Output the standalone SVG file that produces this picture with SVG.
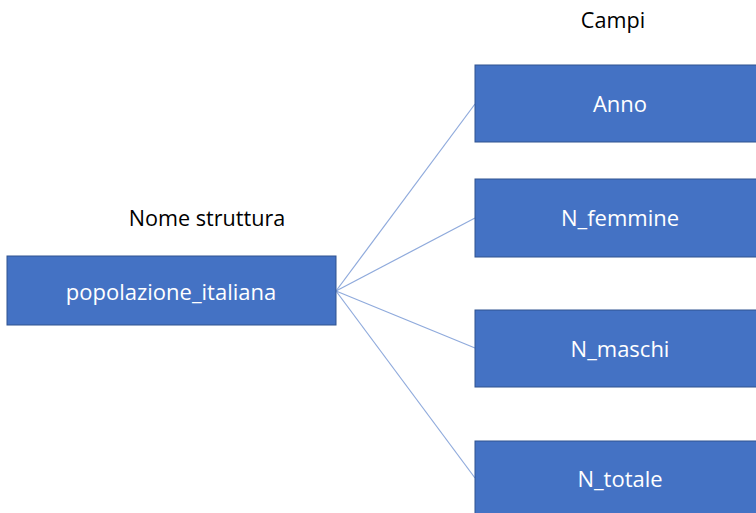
<svg xmlns="http://www.w3.org/2000/svg" width="756" height="513" viewBox="0 0 756 513">
<style>
.box{fill:#4472C4;stroke:#2F528F;stroke-width:1}
.bt{fill:#ffffff;font-family:"Open Sans","Liberation Sans",sans-serif;font-size:22px;text-anchor:middle}
.lbl{fill:#000000;font-family:"Open Sans","Liberation Sans",sans-serif;font-size:21.6px;text-anchor:middle}
.con{stroke:#8FAADC;stroke-width:1.2;fill:none}
</style>
<rect width="756" height="513" fill="#ffffff"/>
<g id="connectors">
<line class="con" x1="336" y1="291" x2="475" y2="104"/>
<line class="con" x1="336" y1="291" x2="475" y2="218"/>
<line class="con" x1="336" y1="291" x2="475" y2="348"/>
<line class="con" x1="336" y1="291" x2="475" y2="478"/>
</g>
<g id="label-campi"><text class="lbl" x="613" y="28">Campi</text></g>
<g id="label-nome"><text class="lbl" x="207" y="226">Nome struttura</text></g>
<g id="node-popolazione">
<rect class="box" x="7" y="256" width="329" height="69"/>
<text class="bt" x="171" y="300">popolazione_italiana</text>
</g>
<g id="node-anno">
<rect class="box" x="475" y="65" width="292" height="77"/>
<text class="bt" x="620" y="112">Anno</text>
</g>
<g id="node-femmine">
<rect class="box" x="475" y="179" width="292" height="78"/>
<text class="bt" x="620" y="226">N_femmine</text>
</g>
<g id="node-maschi">
<rect class="box" x="475" y="310" width="292" height="77"/>
<text class="bt" x="620" y="357">N_maschi</text>
</g>
<g id="node-totale">
<rect class="box" x="475" y="441" width="292" height="80"/>
<text class="bt" x="620" y="487">N_totale</text>
</g>
</svg>
